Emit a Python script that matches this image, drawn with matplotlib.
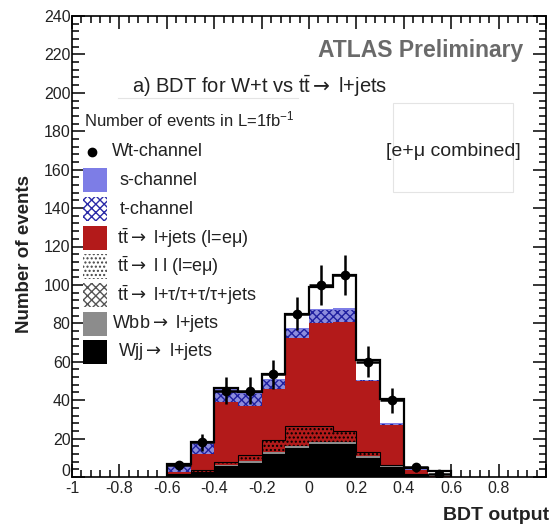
import numpy as np
import matplotlib
matplotlib.use("Agg")
import matplotlib.pyplot as plt
from matplotlib.ticker import MultipleLocator, FuncFormatter
from matplotlib.patches import Rectangle
from matplotlib.lines import Line2D

plt.rcParams['font.family'] = ['Liberation Sans', 'DejaVu Sans']
plt.rcParams['mathtext.fontset'] = 'custom'
plt.rcParams['mathtext.rm'] = 'Liberation Sans'
plt.rcParams['mathtext.it'] = 'Liberation Sans:italic'
plt.rcParams['mathtext.bf'] = 'Liberation Sans:bold'
plt.rcParams['mathtext.sf'] = 'DejaVu Sans'
plt.rcParams['axes.unicode_minus'] = False
plt.rcParams['hatch.linewidth'] = 1.0

# BDT output bins (lower edges, width 0.1)
bin_lo = [-0.6, -0.5, -0.4, -0.3, -0.2, -0.1, 0.0, 0.1, 0.2, 0.3, 0.4, 0.5]
bin_w = 0.1

# stacked backgrounds, bottom to top
wjj      = [1.0, 2.5, 5.5, 7.5, 12.0, 15.0, 17.0, 17.0, 10.0, 5.0, 1.0, 0.0]
wbb      = [0.2, 0.3, 0.5, 0.7, 1.0, 1.2, 1.3, 1.2, 0.8, 0.5, 0.2, 0.0]
tt_tau   = [0.3, 0.5, 1.5, 2.5, 4.0, 5.0, 4.5, 3.0, 1.5, 0.7, 0.2, 0.0]
tt_ll    = [0.2, 0.3, 0.5, 1.0, 2.5, 5.5, 4.0, 2.5, 0.5, 0.2, 0.1, 0.0]
tt_ljets = [1.1, 8.4, 30.8, 25.3, 26.5, 45.8, 53.2, 56.8, 37.2, 20.6, 2.2, 0.3]
t_chan   = [3.7, 5.2, 6.2, 6.2, 4.3, 4.5, 6.7, 6.7, 0.4, 0.7, 0.2, 0.15]
s_chan   = [0.3, 0.5, 0.8, 0.8, 0.7, 0.7, 0.8, 0.8, 0.3, 0.3, 0.1, 0.05]
wt_mc    = [0.2, 0.3, 0.3, 0.4, 2.7, 7.0, 11.5, 17.4, 10.0, 12.5, 0.7, 2.5]

# Wt-channel points
wt_pts = [6, 18, 45, 45, 53.5, 85, 100, 105, 60, 40, 5, 1.8]
wt_err = [2.5, 4.5, 7, 7, 7.5, 8.5, 10.5, 10.5, 8, 6.5, 2.5, 1.5]

TT = r'$\mathrm{t\bar{t}}$'
AR = r'$\mathsf{\rightarrow}$'
labels = ['Wt-channel', 's-channel', 't-channel',
          TT + AR + ' l+jets (l=eμ)', TT + AR + ' l l (l=eμ)',
          TT + AR + ' l+τ/τ+τ/τ+jets', 'Wbb' + AR + ' l+jets', 'Wjj' + AR + ' l+jets']

red = '#b31a1a'
sblue = '#7d7de6'

fig = plt.figure(figsize=(5.5, 5.26), dpi=100)
W, H = 550, 526
ax = fig.add_axes([72 / W, 1 - 477 / H, 474 / W, 461 / H])

x0 = np.array(bin_lo)
bottom = np.zeros(len(bin_lo))

# components: (values, face, hatch, hatch colour)
comps = [
    (wjj, 'black', None, None),
    (wbb, '#8c8c8c', None, None),
    (tt_tau, red, '....', 'black'),
    (tt_ll, red, '....', 'black'),
    (tt_ljets, red, None, None),
    (t_chan, '#8c8cdc', 'xxxx', '#2020a0'),
    (s_chan, sblue, None, None),
    (wt_mc, 'white', None, None),
]
for vals, face, hatch, hc in comps:
    v = np.array(vals)
    if hatch:
        ax.bar(x0, v, bin_w, bottom=bottom, align='edge', facecolor=face,
               edgecolor=hc, hatch=hatch, linewidth=0, zorder=2)
    else:
        ax.bar(x0, v, bin_w, bottom=bottom, align='edge', color=face,
               linewidth=0, zorder=2)
    bottom = bottom + v

edges = np.append(x0, x0[-1] + bin_w)
ll_top = np.array(wjj) + np.array(wbb) + np.array(tt_tau) + np.array(tt_ll)
ax.stairs(ll_top, edges, color='black', lw=0.8, zorder=3)
ax.stairs(bottom, edges, baseline=0, color='black', lw=1.6, zorder=3)

ax.errorbar(x0 + bin_w / 2, wt_pts, yerr=wt_err, xerr=bin_w / 2, fmt='o',
            color='black', ms=6, elinewidth=1.8, capsize=0, zorder=4)

ax.set_xlim(-1, 1)
ax.set_ylim(0, 240)
ax.xaxis.set_major_locator(MultipleLocator(0.2))
ax.xaxis.set_minor_locator(MultipleLocator(0.04))
ax.yaxis.set_major_locator(MultipleLocator(20))
ax.yaxis.set_minor_locator(MultipleLocator(4))
ax.xaxis.set_major_formatter(FuncFormatter(lambda v, p: '' if v > 0.99 else '%g' % round(v, 2)))
# the "0" on the y axis is drawn a little higher (below), as in the original
ax.yaxis.set_major_formatter(FuncFormatter(lambda v, p: '' if v < 1 else '%g' % v))
ax.tick_params(which='both', direction='in', top=True, right=True, width=1.1,
               labelsize=11.5, labelcolor='#222222')
ax.tick_params(which='major', length=9.5)
ax.tick_params(which='minor', length=4.7)
ax.tick_params(axis='y', pad=1)
ax.tick_params(axis='x', pad=3)
for s in ax.spines.values():
    s.set_linewidth(1.2)

def pf(x, y):
    return x / W, 1 - y / H

fig.text(*pf(70, 472), '0', ha='right', va='center', fontsize=11.5, color='#222222')
fig.text(*pf(25, 254), 'Number of events', rotation=90, ha='center', va='center',
         fontsize=13.5, fontweight='bold', color='#222222')
fig.text(*pf(549, 515), 'BDT output', ha='right', va='center',
         fontsize=14, fontweight='bold', color='#222222')
fig.text(*pf(523, 50), 'ATLAS Preliminary', ha='right', va='center',
         fontsize=16.5, fontweight='bold', color='#6a6a6a')
fig.text(*pf(132, 86), 'a) BDT for W+t vs ' + TT + AR + ' l+jets', ha='left', va='center',
         fontsize=14.5, color='#222222')
fig.text(*pf(84, 119), r'Number of events in L=1fb$^{-1}$', ha='left', va='center',
         fontsize=12, color='#222222')
fig.text(*pf(386, 152), '[e+μ combined]', ha='left', va='center',
         fontsize=14, color='#222222')
fig.add_artist(Rectangle(pf(393, 192), 120 / W, 89 / H, transform=fig.transFigure,
                         fill=False, edgecolor='#e4e4e4', lw=0.8))
fig.add_artist(Line2D([118 / W, 298 / W], [1 - 98 / H] * 2, transform=fig.transFigure,
                      color='#e4e4e4', lw=0.8))

# legend drawn by hand
rows = [152, 180.5, 209, 238, 266.5, 295, 323.5, 352]
text_x = [112, 120, 120, 117, 117, 117, 112, 118]
boxes = [None, (sblue, None, None), ('white', 'xxxx', '#2a2aa8'), (red, None, None),
         ('white', '....', '#444444'), ('white', 'xxxx', '#555555'),
         ('#8c8c8c', None, None), ('black', None, None)]
for yc, tx, lab, box in zip(rows, text_x, labels, boxes):
    if box is None:
        fig.add_artist(Line2D([92 / W], [1 - yc / H], marker='o', ms=6, color='black',
                              transform=fig.transFigure))
    else:
        face, hatch, hc = box
        r = Rectangle(pf(83, yc + 12), 24 / W, 24 / H, transform=fig.transFigure,
                      facecolor=face, edgecolor=hc if hatch else face,
                      hatch=hatch, linewidth=0)
        fig.add_artist(r)
    fig.text(*pf(tx, yc), lab, ha='left', va='center', fontsize=13, color='#222222')

fig.savefig('out.png', dpi=100)
